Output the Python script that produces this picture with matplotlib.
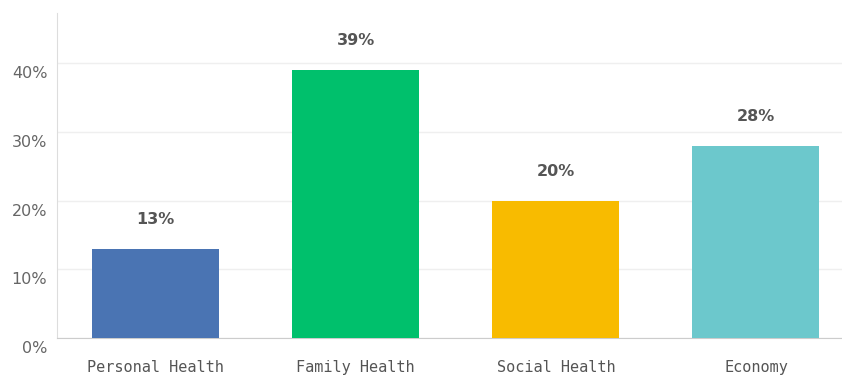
import matplotlib
matplotlib.use("Agg")
import matplotlib.pyplot as plt
import matplotlib.transforms as mtransforms

categories = ["Personal Health", "Family Health", "Social Health", "Economy"]
values = [13, 39, 20, 28]
colors = ["#4a74b3", "#00c06c", "#f8bb00", "#6cc8cc"]
yticks = [0, 10, 20, 30, 40]
ytick_labels = ["0%", "10%", "20%", "30%", "40%"]

fig = plt.figure(figsize=(8.42, 3.79), dpi=100)
ax = fig.add_axes([57/842, 41/379, 1 - 57/842, (338-13)/379])

x = list(range(len(categories)))
ax.bar(x, values, width=0.635, color=colors, zorder=3)
for xi, v in zip(x, values):
    ax.annotate(f"{v}%", (xi, v), xytext=(0, 21), textcoords="offset points",
                ha="center", va="center", fontsize=11.5, fontweight="semibold",
                color="#555555")

ax.set_xlim(-0.4925, 3.43)
ax.set_ylim(0, 47.3)
ax.set_yticks(yticks)
ax.set_yticklabels(ytick_labels)
ax.set_xticks(x)
ax.set_xticklabels(categories, family="DejaVu Sans Mono", fontsize=11)

ax.grid(axis="y", color="#efefef", linewidth=1, zorder=0)
ax.tick_params(axis="both", length=0, colors="#555555")
ax.tick_params(axis="x", pad=16)
ax.tick_params(axis="y", pad=7, labelsize=11.5, labelcolor="#666666")

for spine in ["top", "right"]:
    ax.spines[spine].set_visible(False)
ax.spines["left"].set_color("#dddddd")
ax.spines["bottom"].set_color("#cccccc")

offset = mtransforms.ScaledTranslation(0, -9/100, fig.dpi_scale_trans)
for lbl in ax.get_yticklabels():
    lbl.set_transform(lbl.get_transform() + offset)

fig.savefig("out.png", dpi=100)
